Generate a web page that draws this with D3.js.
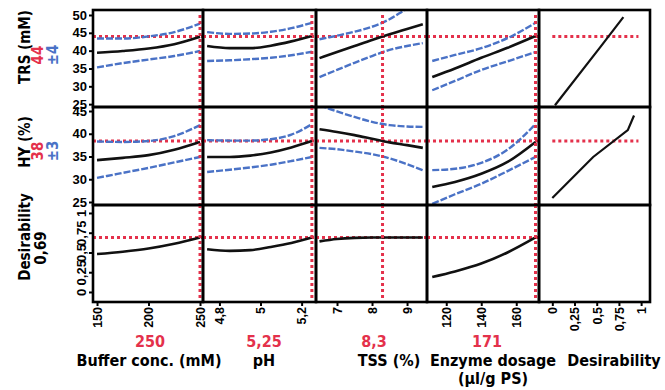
<!DOCTYPE html>
<html>
<head>
<meta charset="utf-8">
<script src="https://cdn.jsdelivr.net/npm/d3@7"></script>
<style>
body { margin: 0; background: #fff; }
svg { display: block; font-family: "Liberation Sans Narrow", "Arial Narrow", "DejaVu Sans Condensed", sans-serif; font-weight: bold; }
</style>
</head>
<body>
<svg id="chart" width="665" height="390"></svg>
<script>
// factor settings along each profile curve
var bufferX = [150, 175, 200, 225, 250];
var phX = [4.74, 4.85, 4.95, 5.05, 5.15, 5.25];
var tssX = [6.5, 7, 7.5, 8, 8.5, 9, 9.45];
var enzymeX = [112, 125, 140, 155, 171];
var factorX = [bufferX, phX, tssX, enzymeX];

// TRS (mM): fit, upper and lower interval, one list per factor
var trsFit = [
	[39.4, 39.9, 40.6, 41.8, 43.9],
	[41.3, 40.7, 40.7, 41.4, 42.6, 44.1],
	[37.9, 39.6, 41.3, 43.0, 44.6, 46.1, 47.4],
	[32.6, 35.0, 38.0, 40.8, 44.1]
];
var trsHi = [
	[43.4, 43.4, 44.0, 45.2, 47.6],
	[45.2, 44.7, 44.8, 45.3, 46.3, 47.8],
	[43.2, 44.2, 45.3, 46.7, 48.8, 51.8, 54.0],
	[37.1, 38.8, 40.7, 43.5, 47.8]
];
var trsLo = [
	[35.3, 36.5, 37.5, 38.5, 39.9],
	[37.1, 37.3, 37.6, 38.0, 38.7, 39.7],
	[32.6, 34.6, 36.6, 38.5, 40.2, 41.3, 42.1],
	[28.9, 31.5, 34.6, 37.0, 39.6]
];

// HY (%)
var hyFit = [
	[34.2, 34.7, 35.3, 36.5, 38.2],
	[34.9, 34.9, 35.2, 35.9, 37.0, 38.4],
	[41.0, 40.4, 39.7, 38.9, 38.1, 37.5, 36.9],
	[28.3, 29.4, 31.2, 33.8, 38.2]
];
var hyHi = [
	[38.3, 38.2, 38.4, 39.5, 41.9],
	[38.6, 38.5, 38.5, 38.8, 39.8, 42.1],
	[46.3, 44.9, 43.7, 42.6, 41.9, 41.6, 41.5],
	[32.0, 32.3, 33.6, 36.5, 42.1]
];
var hyLo = [
	[30.3, 31.4, 32.5, 33.7, 34.9],
	[31.6, 32.1, 32.6, 33.2, 34.0, 34.9],
	[36.9, 36.6, 36.1, 35.5, 34.6, 33.3, 32.0],
	[24.6, 26.7, 29.0, 31.8, 34.9]
];

// composite desirability
var desFit = [
	[0.48, 0.51, 0.55, 0.61, 0.69],
	[0.54, 0.52, 0.53, 0.57, 0.62, 0.69],
	[0.64, 0.67, 0.685, 0.69, 0.69, 0.69, 0.69],
	[0.19, 0.26, 0.36, 0.50, 0.69]
];

// desirability functions (last column)
var trsDesX = [0.03, 0.54, 0.80];
var trsDesY = [24.7, 41.0, 49.4];
var hyDesX = [0, 0.46, 0.85, 0.92];
var hyDesY = [25.9, 34.9, 40.8, 44.0];
var desLineX = [0, 0.97];

// optimum
var optimum = [250, 5.25, 8.3, 171];
var optimumLabels = ["250", "5,25", "8,3", "171"];
var respOpt = [44, 38.4, 0.69];
var respNames = ["TRS (mM)", "HY (%)", "Desirability"];
var respValue = ["44", "38", "0,69"];
var respSpread = ["\u00b14", "\u00b13", ""];
var factorNames = [["Buffer conc. (mM)"], ["pH"], ["TSS (%)"], ["Enzyme dosage", "(\u00b5l/g PS)"], ["Desirability"]];

// axes
var xDomains = [[146.1, 252.9], [4.72, 5.27], [6.4, 9.57], [109, 173], [-0.15, 1.1]];
var xTicks = [[150, 200, 250], [4.8, 5, 5.2], [7, 8, 9], [120, 140, 160], [0, 0.25, 0.5, 0.75, 1]];
var yDomains = [[24.2, 51.4], [24.34, 45.88], [-0.127, 1.101]];
var yTicks = [[25, 30, 35, 40, 45, 50], [25, 30, 35, 40, 45], [0, 0.25, 0.5, 0.75, 1]];

var colEdges = [93, 203, 316, 427, 539, 650];
var rowEdges = [10, 107, 205, 302];
var red = "#e4314b", blue = "#4a72c6";

var svg = d3.select("#chart");
var comma = function(d) { return String(d).replace(".", ","); };

var xs = xDomains.map(function(dom, i) {
	return d3.scaleLinear().domain(dom).range([colEdges[i], colEdges[i + 1]]);
});
var ys = yDomains.map(function(dom, j) {
	return d3.scaleLinear().domain(dom).range([rowEdges[j + 1], rowEdges[j]]);
});

var defs = svg.append("defs");
var curves = [[trsFit, trsHi, trsLo], [hyFit, hyHi, hyLo], [desFit]];

for (var r = 0; r < 3; r++) {
	for (var c = 0; c < 5; c++) {
		var id = "clip" + r + c;
		defs.append("clipPath").attr("id", id).append("rect")
			.attr("x", colEdges[c]).attr("y", rowEdges[r])
			.attr("width", colEdges[c + 1] - colEdges[c])
			.attr("height", rowEdges[r + 1] - rowEdges[r]);
		var g = svg.append("g").attr("clip-path", "url(#" + id + ")");
		var x = xs[c], y = ys[r];

		if (c < 4) {
			var xv = factorX[c];
			var line = d3.line()
				.x(function(d) { return x(d[0]); })
				.y(function(d) { return y(d[1]); })
				.curve(d3.curveMonotoneX);
			// horizontal optimum line
			g.append("line")
				.attr("x1", colEdges[c]).attr("x2", colEdges[c + 1])
				.attr("y1", y(respOpt[r])).attr("y2", y(respOpt[r]))
				.style("stroke", red).style("stroke-width", 3).style("stroke-dasharray", "3,3");
			curves[r].forEach(function(series, k) {
				g.append("path")
					.datum(d3.zip(xv, series[c]))
					.attr("d", line)
					.style("fill", "none")
					.style("stroke", k == 0 ? "#111" : blue)
					.style("stroke-width", k == 0 ? 2.6 : 2.4)
					.style("stroke-dasharray", k == 0 ? null : "7,2");
			});
			// vertical optimum line
			g.append("line")
				.attr("x1", x(optimum[c])).attr("x2", x(optimum[c]))
				.attr("y1", rowEdges[r] + (r == 0 ? 5 : 0)).attr("y2", rowEdges[r + 1])
				.style("stroke", red).style("stroke-width", 3).style("stroke-dasharray", "3,3");
		} else if (r < 2) {
			var dx = r == 0 ? trsDesX : hyDesX;
			var dy = r == 0 ? trsDesY : hyDesY;
			g.append("line")
				.attr("x1", x(desLineX[0])).attr("x2", x(desLineX[1]))
				.attr("y1", y(respOpt[r])).attr("y2", y(respOpt[r]))
				.style("stroke", red).style("stroke-width", 3).style("stroke-dasharray", "3,3");
			g.append("path")
				.datum(d3.zip(dx, dy))
				.attr("d", d3.line().x(function(d) { return x(d[0]); }).y(function(d) { return y(d[1]); }))
				.style("fill", "none").style("stroke", "#111").style("stroke-width", 2.2);
		}

		// panel frame
		svg.append("rect")
			.attr("x", colEdges[c]).attr("y", rowEdges[r])
			.attr("width", colEdges[c + 1] - colEdges[c])
			.attr("height", rowEdges[r + 1] - rowEdges[r])
			.style("fill", "none").style("stroke", "#000").style("stroke-width", 2.6);
	}
}

// x axes along the bottom
xs.forEach(function(x, i) {
	var ax = svg.append("g")
		.attr("transform", "translate(0," + rowEdges[3] + ")")
		.call(d3.axisBottom(x).tickValues(xTicks[i]).tickSize(4).tickFormat(comma));
	ax.select(".domain").remove();
	ax.selectAll("line").style("stroke", "#000").style("stroke-width", 2);
	ax.selectAll("text")
		.attr("transform", "rotate(-90)")
		.attr("text-anchor", "end")
		.attr("x", -5).attr("y", 0).attr("dy", "0.35em")
		.style("font-family", null).style("font-size", "12.5px").style("font-weight", "bold").style("fill", "#000");
});

// y axes on the left
ys.forEach(function(y, j) {
	var ax = svg.append("g")
		.attr("transform", "translate(" + colEdges[0] + ",0)")
		.call(d3.axisLeft(y).tickValues(yTicks[j]).tickSize(4).tickPadding(2).tickFormat(comma));
	ax.select(".domain").remove();
	ax.selectAll("line").style("stroke", "#000").style("stroke-width", 2);
	var t = ax.selectAll("text").attr("font-family", null).attr("font-size", null)
		.style("font-size", "13px").style("font-weight", "bold").style("fill", "#000");
	if (j == 2) {
		t.attr("transform", "rotate(-90)")
			.attr("text-anchor", "middle")
			.attr("x", 0).attr("y", -7).attr("dy", null);
	}
});

// response titles (rotated)
var rowMid = [47, 142, 237];
var valMid = [55, 151, 248];
respNames.forEach(function(name, j) {
	svg.append("text").text(name)
		.attr("transform", "translate(30," + rowMid[j] + ") rotate(-90)")
		.attr("text-anchor", "middle").style("font-size", "15px");
	svg.append("text").text(respValue[j])
		.attr("transform", "translate(" + (j == 2 ? 46 : 43) + "," + valMid[j] + ") rotate(-90)")
		.attr("text-anchor", "middle").style("font-size", "15px")
		.style("fill", j == 2 ? "#000" : red);
	if (respSpread[j]) {
		svg.append("text").text(respSpread[j])
			.attr("transform", "translate(58," + valMid[j] + ") rotate(-90)")
			.attr("text-anchor", "middle").style("font-size", "15px").style("fill", blue);
	}
});

// factor titles and optimum values
var valX = [150, 264, 374, 487];
var nameX = [149, 264, 389, 493, 614];
optimumLabels.forEach(function(lab, i) {
	svg.append("text").text(lab).attr("x", valX[i]).attr("y", 347)
		.attr("text-anchor", "middle").style("font-size", "16px").style("fill", red);
});
factorNames.forEach(function(lines, i) {
	lines.forEach(function(s, k) {
		svg.append("text").text(s).attr("x", nameX[i]).attr("y", 366 + k * 18)
			.attr("text-anchor", "middle").style("font-size", "16px").style("fill", "#000");
	});
});
</script>
</body>
</html>
